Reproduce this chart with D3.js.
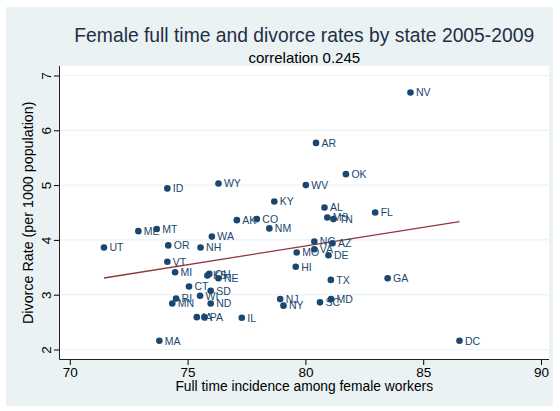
<!DOCTYPE html>
<html>
<head>
<meta charset="utf-8">
<script src="https://cdn.jsdelivr.net/npm/d3@7/dist/d3.min.js"></script>
<style>
  html, body { margin: 0; padding: 0; background: #ffffff; }
  svg { display: block; font-family: "Liberation Sans", Arial, sans-serif; }
</style>
</head>
<body>
<svg id="chart" width="560" height="411"></svg>
<script>
// State abbreviations, female full-time incidence (%) and divorce rate per 1000
const states = ["AL","AK","AZ","AR","CO","CT","DE","DC","FL","GA","HI","ID","IL","IA","KS","KY",
  "ME","MD","MA","MI","MN","MS","MO","MT","NE","NV","NH","NJ","NM","NY","NC","ND","OH","OK",
  "OR","PA","RI","SC","SD","TN","TX","UT","VT","VA","WA","WV","WI","WY"];
const fullTime = [80.81,77.09,81.15,80.45,77.94,75.06,80.98,86.54,82.96,83.49,79.59,74.14,77.30,75.39,75.84,78.68,
  72.91,81.09,73.80,74.47,74.35,80.93,79.63,73.69,76.31,84.46,75.55,78.93,78.47,79.07,80.38,75.98,75.92,81.72,
  74.18,75.71,74.51,80.62,75.98,81.19,81.08,71.45,74.14,80.38,76.03,80.02,75.53,76.31];
const divorceRate = [4.59,4.36,3.94,5.77,4.38,3.15,3.72,2.16,4.50,3.30,3.51,4.94,2.58,2.59,3.35,4.70,
  4.16,2.92,2.16,3.41,2.84,4.41,3.77,4.20,3.30,6.69,3.86,2.92,4.21,2.80,3.97,2.84,3.38,5.20,
  3.90,2.59,2.93,2.86,3.07,4.38,3.27,3.86,3.60,3.83,4.06,5.00,2.98,5.03];

const xTicks = [70, 75, 80, 85, 90];
const yTicks = [2, 3, 4, 5, 6, 7];

const titleText = "Female full time and divorce rates by state 2005-2009";
const subtitleText = "correlation 0.245";
const xTitle = "Full time incidence among female workers";
const yTitle = "Divorce Rate (per 1000 population)";

const navy = "#1a476f", maroon = "#90353b", bg = "#eaf2f3";

const svg = d3.select("#chart");

// plot region bounds
const plot = { left: 59.5, right: 549, top: 66, bottom: 359.5 };

const x = d3.scaleLinear().domain([70, 90]).range([69.8, 541]);
const y = d3.scaleLinear().domain([2, 7]).range([349.5, 75.5]);

// graph region background
svg.append("rect").attr("x", 6).attr("y", 7).attr("width", 547).attr("height", 399)
  .attr("fill", bg);
// plot region
svg.append("rect").attr("x", plot.left).attr("y", plot.top)
  .attr("width", plot.right - plot.left).attr("height", plot.bottom - plot.top)
  .attr("fill", "#ffffff");

// horizontal grid lines
svg.append("g").selectAll("line").data(yTicks).join("line")
  .attr("x1", plot.left).attr("x2", plot.right)
  .attr("y1", d => y(d)).attr("y2", d => y(d))
  .attr("stroke", bg).attr("stroke-width", 1.2);

// x axis
const xAxis = svg.append("g").attr("transform", `translate(0,${plot.bottom})`)
  .call(d3.axisBottom(x).tickValues(xTicks).tickSize(5.5).tickPadding(2).tickFormat(d3.format("d")));
xAxis.select(".domain").remove();
xAxis.selectAll(".tick line").attr("stroke", "#000");
xAxis.selectAll(".tick text").attr("font-size", "13.5px").attr("fill", "#000")
  .attr("font-family", "Liberation Sans, Arial, sans-serif");
svg.append("line").attr("x1", plot.left).attr("x2", plot.right)
  .attr("y1", plot.bottom).attr("y2", plot.bottom).attr("stroke", "#222").attr("stroke-width", 1);

// y axis with rotated labels
const yAxis = svg.append("g").attr("transform", `translate(${plot.left},0)`)
  .call(d3.axisLeft(y).tickValues(yTicks).tickSize(5.5).tickFormat(d3.format("d")));
yAxis.select(".domain").remove();
yAxis.selectAll(".tick line").attr("stroke", "#000");
yAxis.selectAll(".tick text")
  .attr("x", null).attr("dy", null)
  .attr("text-anchor", "middle")
  .attr("transform", "translate(-9,0) rotate(-90)")
  .attr("font-size", "13.5px").attr("fill", "#000")
  .attr("font-family", "Liberation Sans, Arial, sans-serif");
svg.append("line").attr("x1", plot.left).attr("x2", plot.left)
  .attr("y1", plot.top).attr("y2", plot.bottom).attr("stroke", "#222").attr("stroke-width", 1);

// least-squares fit line over the observed range
const n = states.length;
const mx = d3.mean(fullTime), my = d3.mean(divorceRate);
let sxy = 0, sxx = 0;
for (let i = 0; i < n; i++) {
  sxy += (fullTime[i] - mx) * (divorceRate[i] - my);
  sxx += (fullTime[i] - mx) ** 2;
}
const slope = sxy / sxx, intercept = my - slope * mx;
const [xmin, xmax] = d3.extent(fullTime);
svg.append("line")
  .attr("x1", x(xmin)).attr("y1", y(intercept + slope * xmin))
  .attr("x2", x(xmax)).attr("y2", y(intercept + slope * xmax))
  .attr("stroke", maroon).attr("stroke-width", 1.3);

// points and state labels
const pts = svg.append("g");
pts.selectAll("circle").data(states).join("circle")
  .attr("cx", (d, i) => x(fullTime[i])).attr("cy", (d, i) => y(divorceRate[i]))
  .attr("r", 3.3).attr("fill", navy);
pts.selectAll("text").data(states).join("text")
  .attr("x", (d, i) => x(fullTime[i]) + 5.5).attr("y", (d, i) => y(divorceRate[i]) + 3.8)
  .attr("font-size", "10.5px").attr("fill", navy)
  .text(d => d);

// titles
const cx = (plot.left + plot.right) / 2;
svg.append("text").attr("x", cx).attr("y", 42).attr("text-anchor", "middle")
  .attr("font-size", "19.3px").attr("fill", "#1e2f45").text(titleText);
svg.append("text").attr("x", cx).attr("y", 63).attr("text-anchor", "middle")
  .attr("font-size", "15px").attr("fill", "#000").text(subtitleText);
svg.append("text").attr("x", cx).attr("y", 391).attr("text-anchor", "middle")
  .attr("font-size", "13.8px").attr("fill", "#000").text(xTitle);
svg.append("text").attr("transform", `translate(33,${(plot.top + plot.bottom) / 2}) rotate(-90)`)
  .attr("text-anchor", "middle").attr("font-size", "14.3px").attr("fill", "#000").text(yTitle);
</script>
</body>
</html>
